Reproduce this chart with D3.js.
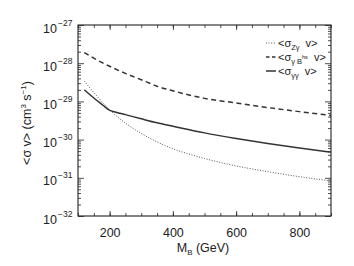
<!DOCTYPE html>
<html>
<head>
<meta charset="utf-8">
<script src="https://cdn.jsdelivr.net/npm/d3@7"></script>
<style>
body { margin: 0; background: #fff; }
text { font-family: "Liberation Sans", Arial, sans-serif; fill: #222; }
</style>
</head>
<body>
<svg width="354" height="266"></svg>
<script>
// masses (GeV)
var massZg = [120, 150, 175, 200, 250, 300, 350, 400, 450, 500, 600, 700, 800, 900];
var sigmaZg = [3.4e-29, 1.7e-29, 1.0e-29, 6.0e-30, 2.7e-30, 1.45e-30, 8.7e-31, 5.75e-31, 4.2e-31, 3.2e-31, 2.05e-31, 1.45e-31, 1.07e-31, 8.3e-32];

var massGB = [120, 150, 200, 250, 300, 350, 400, 500, 600, 700, 800, 900];
var sigmaGB = [1.9e-28, 1.35e-28, 8.3e-29, 5.4e-29, 3.7e-29, 2.5e-29, 1.9e-29, 1.2e-29, 9.1e-30, 6.9e-30, 5.4e-30, 4.3e-30];

var massGG = [120, 150, 180, 195, 220, 250, 300, 350, 400, 500, 600, 700, 800, 900];
var sigmaGG = [2.0e-29, 1.23e-29, 7.8e-30, 6.2e-30, 5.2e-30, 4.5e-30, 3.5e-30, 2.75e-30, 2.24e-30, 1.5e-30, 1.07e-30, 7.9e-31, 6.0e-31, 4.7e-31];

var xMajor = [200, 400, 600, 800];
var yExp = [-27, -28, -29, -30, -31, -32];

var svg = d3.select("svg");
var pLeft = 78, pRight = 331, pTop = 25, pBottom = 216;

var x = d3.scaleLinear().domain([100, 900]).range([pLeft, pRight]);
var y = d3.scaleLog().domain([1e-32, 1e-27]).range([pBottom, pTop]);

var xMinor = d3.range(100, 901, 50);
var yMinor = [];
yExp.forEach(function(e) {
    if (e == -27) return;
    for (var k = 2; k <= 9; k++) yMinor.push(k * Math.pow(10, e));
});
var yMajor = yExp.map(function(e) { return Math.pow(10, e); });

function styleAxis(g) {
    g.select(".domain").remove();
    g.selectAll("line").attr("stroke", "#222").attr("stroke-width", 0.8);
}

// minor ticks on all four sides
svg.append("g").attr("transform", "translate(0," + pBottom + ")")
    .call(d3.axisBottom(x).tickValues(xMinor).tickSize(-3).tickFormat(""))
    .call(styleAxis);
svg.append("g").attr("transform", "translate(0," + pTop + ")")
    .call(d3.axisTop(x).tickValues(xMinor).tickSize(-3).tickFormat(""))
    .call(styleAxis);
svg.append("g").attr("transform", "translate(" + pLeft + ",0)")
    .call(d3.axisLeft(y).tickValues(yMinor).tickSize(-3).tickFormat(""))
    .call(styleAxis);
svg.append("g").attr("transform", "translate(" + pRight + ",0)")
    .call(d3.axisRight(y).tickValues(yMinor).tickSize(-3).tickFormat(""))
    .call(styleAxis);

// major ticks
var xAxis = svg.append("g").attr("transform", "translate(0," + pBottom + ")")
    .call(d3.axisBottom(x).tickValues(xMajor).tickSize(-5).tickPadding(12).tickFormat(d3.format("d")))
    .call(styleAxis);
xAxis.selectAll("text").attr("font-size", 12.5).attr("fill", "#222")
    .style("font-family", "Liberation Sans, Arial, sans-serif");
svg.append("g").attr("transform", "translate(0," + pTop + ")")
    .call(d3.axisTop(x).tickValues(xMajor).tickSize(-5).tickFormat(""))
    .call(styleAxis);

var yAxis = svg.append("g").attr("transform", "translate(" + pLeft + ",0)")
    .call(d3.axisLeft(y).tickValues(yMajor).tickSize(-6).tickFormat(""))
    .call(styleAxis);
svg.append("g").attr("transform", "translate(" + pRight + ",0)")
    .call(d3.axisRight(y).tickValues(yMajor).tickSize(-6).tickFormat(""))
    .call(styleAxis);

yAxis.selectAll(".tick").each(function(d) {
    var g = d3.select(this);
    g.append("text")
        .attr("x", -21).attr("y", 7)
        .attr("text-anchor", "end")
        .attr("font-size", 12.5).attr("fill", "#222")
        .style("font-family", "Liberation Sans, Arial, sans-serif")
        .text("10");
    g.append("text")
        .attr("x", -20).attr("y", 0)
        .attr("text-anchor", "start")
        .attr("font-size", 8.5).attr("fill", "#222")
        .style("font-family", "Liberation Sans, Arial, sans-serif")
        .text("\u2212" + Math.round(-Math.log10(d)));
});

// frame
svg.append("rect")
    .attr("x", pLeft).attr("y", pTop)
    .attr("width", pRight - pLeft).attr("height", pBottom - pTop)
    .attr("fill", "none").attr("stroke", "#222").attr("stroke-width", 1.1);

// curves
var line = d3.line()
    .x(function(d) { return x(d[0]); })
    .y(function(d) { return y(d[1]); })
    .curve(d3.curveMonotoneX);

svg.append("path")
    .datum(d3.zip(massZg, sigmaZg))
    .attr("d", line)
    .attr("fill", "none").attr("stroke", "#555").attr("stroke-width", 1)
    .attr("stroke-dasharray", "1,1.6");

svg.append("path")
    .datum(d3.zip(massGB, sigmaGB))
    .attr("d", line)
    .attr("fill", "none").attr("stroke", "#333").attr("stroke-width", 1.5)
    .attr("stroke-dasharray", "5,3.5");

svg.append("path")
    .datum(d3.zip(massGG, sigmaGG))
    .attr("d", line)
    .attr("fill", "none").attr("stroke", "#333").attr("stroke-width", 1.5);

// legend
var legend = [
    { y: 43, dash: "1,1.6", w: 1, c: "#555", sub: "Z\u03b3", sup: "" },
    { y: 57, dash: "3.5,2.5", w: 1.5, c: "#333", sub: "\u03b3 B", sup: "hs" },
    { y: 71, dash: null, w: 1.5, c: "#333", sub: "\u03b3\u03b3", sup: "" }
];
legend.forEach(function(l) {
    svg.append("line")
        .attr("x1", 266).attr("x2", 276).attr("y1", l.y).attr("y2", l.y)
        .attr("stroke", l.c).attr("stroke-width", l.w)
        .attr("stroke-dasharray", l.dash);
    var t = svg.append("text").attr("x", 278).attr("y", l.y + 3.5).attr("font-size", 11);
    t.append("tspan").text("<\u03c3");
    t.append("tspan").attr("dy", 3).attr("font-size", 7.5).text(l.sub);
    if (l.sup) t.append("tspan").attr("dy", -5).attr("font-size", 5.5).text(l.sup);
    t.append("tspan").attr("dy", l.sup ? 2 : -3).attr("dx", 3).text(" v>");
});

// axis titles
var xt = svg.append("text").attr("x", 203).attr("y", 252).attr("text-anchor", "middle").attr("font-size", 12.5);
xt.append("tspan").text("M");
xt.append("tspan").attr("dy", 3).attr("font-size", 8).text("B");
xt.append("tspan").attr("dy", -3).text(" (GeV)");

var yt = svg.append("text")
    .attr("transform", "translate(31,123) rotate(-90)")
    .attr("text-anchor", "middle").attr("font-size", 12.5);
yt.append("tspan").text("<\u03c3 v> (cm");
yt.append("tspan").attr("dy", -5).attr("font-size", 8).text("3");
yt.append("tspan").attr("dy", 5).text(" s");
yt.append("tspan").attr("dy", -5).attr("font-size", 8).text("\u22121");
yt.append("tspan").attr("dy", 5).text(")");
</script>
</body>
</html>
